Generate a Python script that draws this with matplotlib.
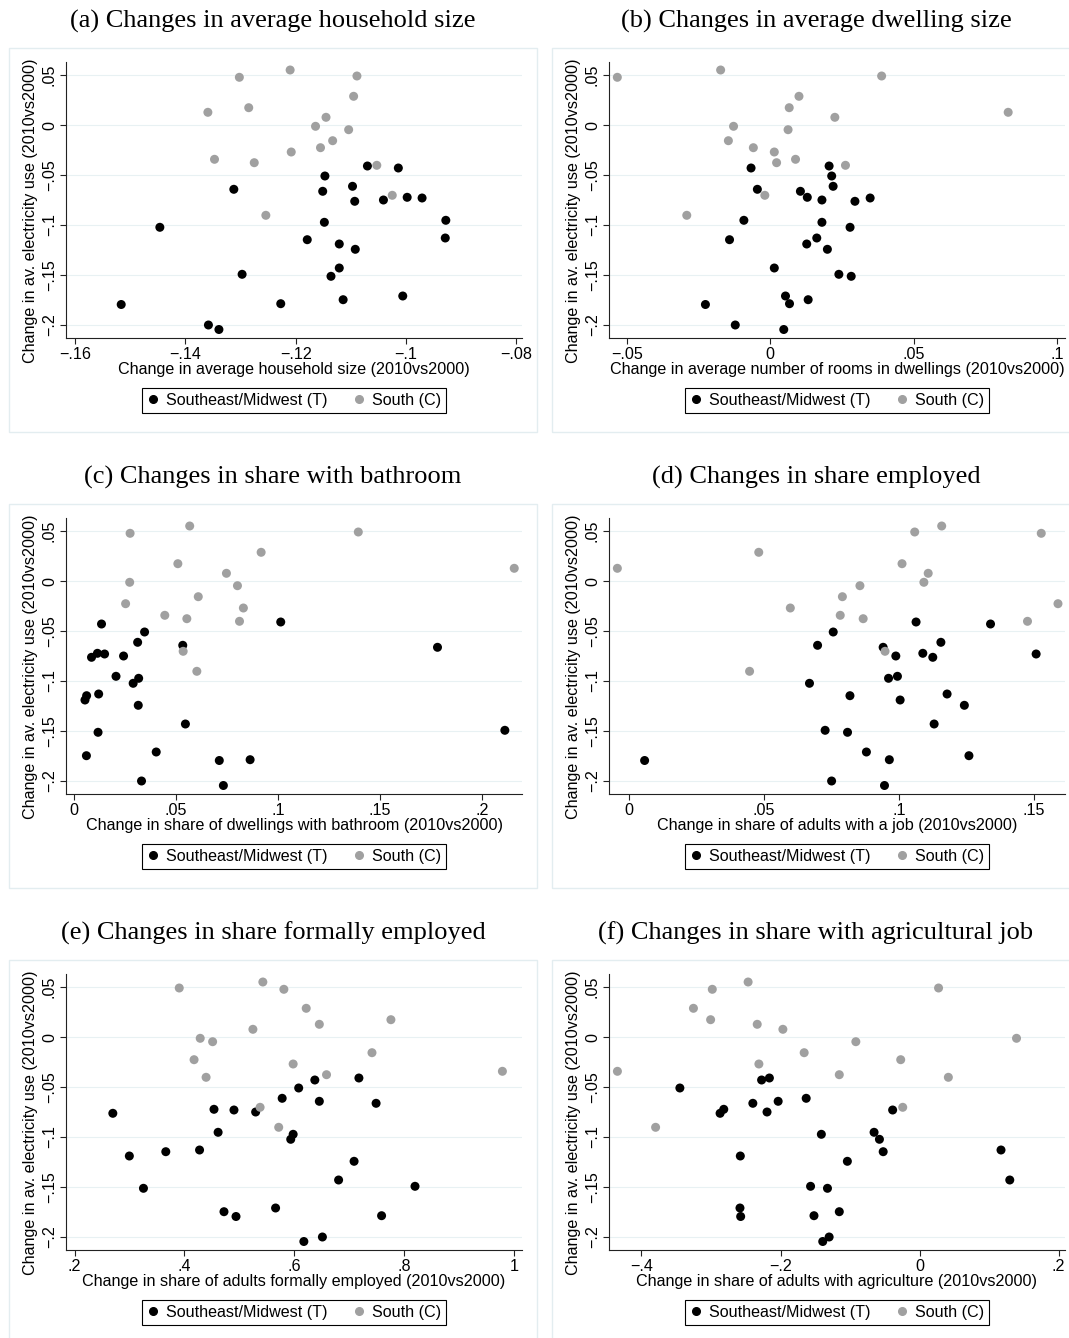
import numpy as np
import matplotlib
matplotlib.use("Agg")
import matplotlib.pyplot as plt
from matplotlib.lines import Line2D
from matplotlib.patches import Rectangle
from matplotlib.ticker import FuncFormatter

# y: change in av. electricity use (2010vs2000), same regions in every panel
y_t = [-0.041, -0.043, -0.051, -0.0613, -0.0643, -0.0663, -0.0723, -0.073, -0.075, -0.0763,
       -0.0953, -0.0973, -0.1023, -0.113, -0.1147, -0.119, -0.1243, -0.143, -0.1493, -0.1513,
       -0.171, -0.1747, -0.1787, -0.1795, -0.2, -0.2045]
y_c = [0.055, 0.049, 0.0477, 0.0287, 0.0173, 0.0127, 0.0077, -0.0013, -0.0047, -0.0157,
       -0.0227, -0.027, -0.0343, -0.0377, -0.0403, -0.0703, -0.0903]

# (a) household size
hh_t = [-0.1070, -0.1014, -0.1147, -0.1097, -0.1312, -0.1151, -0.0998, -0.0971, -0.1041, -0.1093,
        -0.0928, -0.1148, -0.1446, -0.0929, -0.1179, -0.1121, -0.1092, -0.1121, -0.1297, -0.1136,
        -0.1006, -0.1114, -0.1227, -0.1516, -0.1358, -0.1339]
hh_c = [-0.1210, -0.1089, -0.1302, -0.1095, -0.1285, -0.1359, -0.1145, -0.1164, -0.1104, -0.1133,
        -0.1155, -0.1208, -0.1347, -0.1275, -0.1053, -0.1025, -0.1254]
# (b) rooms
rooms_t = [0.0205, -0.0067, 0.0214, 0.0219, -0.0045, 0.0105, 0.0129, 0.0348, 0.0180, 0.0295,
           -0.0092, 0.0180, 0.0278, 0.0162, -0.0142, 0.0127, 0.0199, 0.0014, 0.0239, 0.0282,
           0.0053, 0.0132, 0.0067, -0.0226, -0.0122, 0.0047]
rooms_c = [-0.0173, 0.0388, -0.0533, 0.0100, 0.0066, 0.0829, 0.0225, -0.0128, 0.0062, -0.0146,
           -0.0059, 0.0014, 0.0088, 0.0022, 0.0262, -0.0019, -0.0291]
# (c) bathroom
bath_t = [0.1013, 0.0135, 0.0346, 0.0312, 0.0533, 0.1781, 0.0115, 0.0150, 0.0243, 0.0086,
          0.0206, 0.0317, 0.0290, 0.0121, 0.0062, 0.0054, 0.0315, 0.0546, 0.2111, 0.0118,
          0.0403, 0.0061, 0.0863, 0.0712, 0.0331, 0.0732]
bath_c = [0.0567, 0.1393, 0.0275, 0.0917, 0.0509, 0.2157, 0.0747, 0.0273, 0.0801, 0.0609,
          0.0253, 0.0830, 0.0445, 0.0553, 0.0811, 0.0535, 0.0602]
# (d) job
job_t = [0.1064, 0.1340, 0.0757, 0.1156, 0.0699, 0.0942, 0.1089, 0.1509, 0.0989, 0.1126,
         0.0995, 0.0962, 0.0669, 0.1179, 0.0819, 0.1005, 0.1243, 0.1131, 0.0727, 0.0810,
         0.0880, 0.1260, 0.0965, 0.0058, 0.0751, 0.0947]
job_c = [0.1159, 0.1059, 0.1528, 0.0481, 0.1012, -0.0043, 0.1109, 0.1093, 0.0856, 0.0791,
         0.1590, 0.0598, 0.0783, 0.0868, 0.1477, 0.0949, 0.0447]
# (e) formal job
formal_t = [0.7179, 0.6376, 0.6082, 0.5781, 0.6458, 0.7492, 0.4539, 0.4903, 0.5298, 0.2696,
            0.4614, 0.5981, 0.5937, 0.4276, 0.3661, 0.2997, 0.7091, 0.6809, 0.8201, 0.3254,
            0.5661, 0.4721, 0.7592, 0.4940, 0.6514, 0.6176]
formal_c = [0.5429, 0.3906, 0.5812, 0.6219, 0.7762, 0.6458, 0.5248, 0.4288, 0.4514, 0.7417,
            0.4176, 0.5981, 0.9793, 0.6589, 0.4395, 0.5379, 0.5718]
# (f) agriculture
agri_t = [-0.2160, -0.2272, -0.3447, -0.1631, -0.2034, -0.2398, -0.2816, -0.0388, -0.2194, -0.2869,
          -0.0655, -0.1413, -0.0578, 0.1170, -0.0524, -0.2578, -0.1039, 0.1296, -0.1568, -0.1325,
          -0.2583, -0.1155, -0.1519, -0.2573, -0.1301, -0.1393]
agri_c = [-0.2466, 0.0272, -0.2981, -0.3252, -0.3005, -0.2335, -0.1966, 0.1393, -0.0917, -0.1660,
          -0.0272, -0.2311, -0.4345, -0.1155, 0.0413, -0.0243, -0.3796]

titles = ["(a) Changes in average household size", "(b) Changes in average dwelling size",
          "(c) Changes in share with bathroom", "(d) Changes in share employed",
          "(e) Changes in share formally employed", "(f) Changes in share with agricultural job"]
xlabels = ["Change in average household size (2010vs2000)",
           "Change in average number of rooms in dwellings (2010vs2000)",
           "Change in share of dwellings with bathroom (2010vs2000)",
           "Change in share of adults with a job (2010vs2000)",
           "Change in share of adults formally employed (2010vs2000)",
           "Change in share of adults with agriculture (2010vs2000)"]
ylabel = "Change in av. electricity use (2010vs2000)"
xticks = [[-0.16, -0.14, -0.12, -0.10, -0.08], [-0.05, 0, 0.05, 0.1], [0, 0.05, 0.1, 0.15, 0.2],
          [0, 0.05, 0.1, 0.15], [0.2, 0.4, 0.6, 0.8, 1.0], [-0.4, -0.2, 0, 0.2]]
xlims = [(-0.1616, -0.0790), (-0.0562, 0.1027), (-0.0039, 0.2195),
         (-0.0074, 0.1616), (0.1843, 1.0150), (-0.4466, 0.2090)]
yticks = [-0.2, -0.15, -0.1, -0.05, 0, 0.05]
legend_labels = ["Southeast/Midwest (T)", "South (C)"]
panels = [(hh_t, hh_c), (rooms_t, rooms_c), (bath_t, bath_c),
          (job_t, job_c), (formal_t, formal_c), (agri_t, agri_c)]

GRAY = "#a0a0a0"
W, H = 1069, 1338
FS = 11.6


def stata_fmt(v, pos=None):
    s = ("%.2f" % abs(v)).rstrip("0").rstrip(".")
    if s.startswith("0."):
        s = s[1:]
    if s == "":
        s = "0"
    return ("\u2212" + s) if v < -1e-9 else s


plt.rcParams["font.family"] = ["Liberation Sans", "DejaVu Sans"]
fig = plt.figure(figsize=(W / 100, H / 100), dpi=100)

for i, (xt, xc) in enumerate(panels):
    r, k = divmod(i, 2)
    # light outer frame of each graph
    fx, fy = 9 + 543 * k, 48 + 456 * r
    fig.patches.append(Rectangle((fx / W, 1 - (fy + 384) / H), 528 / W, 384 / H,
                                 transform=fig.transFigure, fill=False,
                                 edgecolor="#e3edf0", lw=1))
    fig.text((fx + 264) / W, 1 - (21 + 456 * r) / H, titles[i], ha="center", va="center",
             fontsize=19, family=["Liberation Serif", "DejaVu Serif"])

    ax_l, ax_t = 66 + 543 * k, 62 + 456 * r
    ax = fig.add_axes([ax_l / W, 1 - (ax_t + 276) / H, 456 / W, 276 / H])
    ax.scatter(xt, y_t, s=42, color="black", edgecolors="none", zorder=3)
    ax.scatter(xc, y_c, s=42, color=GRAY, edgecolors="none", zorder=3)

    ax.set_xlim(*xlims[i])
    ax.set_ylim(-0.213, 0.063)
    ax.set_xticks(xticks[i])
    ax.set_yticks(yticks)
    ax.xaxis.set_major_formatter(FuncFormatter(stata_fmt))
    ax.yaxis.set_major_formatter(FuncFormatter(stata_fmt))
    ax.grid(axis="y", color="#e8f1f3", lw=0.8, zorder=0)
    ax.grid(axis="x", visible=False)
    for sp in ["top", "right"]:
        ax.spines[sp].set_visible(False)
    for sp in ["left", "bottom"]:
        ax.spines[sp].set_color("#222222")
        ax.spines[sp].set_linewidth(0.8)
    ax.tick_params(direction="out", length=4, width=0.8, color="#222222",
                   labelsize=FS, pad=2.5)
    for lab in ax.get_yticklabels():
        lab.set_rotation(90)
        lab.set_va("center")

    ax.set_xlabel(xlabels[i], fontsize=FS)
    ax.xaxis.set_label_coords(0.5, -0.113)
    ax.xaxis.label.set_va("center")
    ax.set_ylabel(ylabel, fontsize=FS)
    ax.yaxis.set_label_coords(-0.077, 0.46)
    ax.yaxis.label.set_va("center")

    handles = [Line2D([], [], marker="o", ls="none", color="black", markersize=5.5),
               Line2D([], [], marker="o", ls="none", color=GRAY, markersize=5.5)]
    leg = ax.legend(handles, legend_labels, loc="center", bbox_to_anchor=(0.5, -0.226),
                    ncol=2, fontsize=FS, frameon=True, fancybox=False, edgecolor="black",
                    framealpha=1, borderpad=0.3, handlelength=0.7, handletextpad=0.45,
                    columnspacing=1.6, borderaxespad=0)
    leg.get_frame().set_linewidth(0.8)

fig.savefig("out.png", dpi=100)
